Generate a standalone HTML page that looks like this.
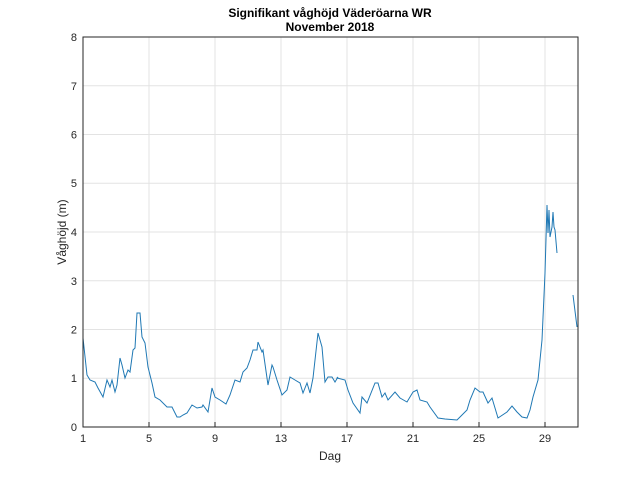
<!DOCTYPE html>
<html><head><style>body{margin:0;background:#fff}svg{display:block}</style></head><body>
<svg width="640" height="480" xmlns="http://www.w3.org/2000/svg" font-family="Liberation Sans, Arial, sans-serif">
<rect width="640" height="480" fill="#fff"/>
<g stroke="#e3e3e3" stroke-width="1">
<line x1="149" y1="37" x2="149" y2="427"/><line x1="215" y1="37" x2="215" y2="427"/><line x1="281" y1="37" x2="281" y2="427"/><line x1="347" y1="37" x2="347" y2="427"/><line x1="413" y1="37" x2="413" y2="427"/><line x1="479" y1="37" x2="479" y2="427"/><line x1="545" y1="37" x2="545" y2="427"/>
<line x1="83" y1="378.25" x2="578" y2="378.25"/><line x1="83" y1="329.5" x2="578" y2="329.5"/><line x1="83" y1="280.75" x2="578" y2="280.75"/><line x1="83" y1="232" x2="578" y2="232"/><line x1="83" y1="183.25" x2="578" y2="183.25"/><line x1="83" y1="134.5" x2="578" y2="134.5"/><line x1="83" y1="85.75" x2="578" y2="85.75"/>
</g>
<g fill="none" stroke="#1f78b4" stroke-width="1">
<polyline points="83,338 87,375 90,380 95,382 98,388 103,397 107,380 110,387 112,380 115,392 117,385 120,358 122,365 125,378 128,370 130,372 133,350 135,348 137,313 140,313 142,337 145,343 148,367 152,383 155,397 160,400 167,407 172,407 177,417 180,417 183,415 187,413 192,405 197,408 202,407 203,405 208,412 212,388 215,397 220,400 226,404 230,395 235,380 240,382 243,372 247,368 250,360 253,350 257,350 258,342 262,352 263,350 268,385 272,365 273,367 277,380 282,395 287,390 290,377 295,380 300,383 303,393 307,383 310,393 313,378 318,333 322,347 325,382 328,377 332,377 335,382 338,377 337,378 345,380 348,390 353,403 360,413 362,397 367,403 375,383 378,383 382,397 385,393 388,400 395,392 400,398 407,402 413,392 417,390 420,400 427,402 430,407 438,418 445,419 457,420 462,415 467,410 470,400 475,388 480,392 483,392 488,403 492,398 498,418 507,412 512,406 517,412 522,417 527,418 530,410 533,397 538,380 542,340 545,273 547,205 548,233 549,210 550,237 552,227 553,212 554,227 555,230 557,253"/>
<polyline points="573,295 577,327"/>
</g>
<rect x="83" y="37" width="495" height="390" fill="none" stroke="#262626" stroke-width="1"/>
<g stroke="#262626">
<line x1="149" y1="427" x2="149" y2="422"/><line x1="215" y1="427" x2="215" y2="422"/><line x1="281" y1="427" x2="281" y2="422"/><line x1="347" y1="427" x2="347" y2="422"/><line x1="413" y1="427" x2="413" y2="422"/><line x1="479" y1="427" x2="479" y2="422"/><line x1="545" y1="427" x2="545" y2="422"/>
</g>
<g font-size="11" fill="#262626" text-anchor="middle">
<text x="83" y="442">1</text><text x="149" y="442">5</text><text x="215" y="442">9</text><text x="281" y="442">13</text><text x="347" y="442">17</text><text x="413" y="442">21</text><text x="479" y="442">25</text><text x="545" y="442">29</text>
</g>
<g font-size="11" fill="#262626" text-anchor="end">
<text x="77" y="431">0</text><text x="77" y="382">1</text><text x="77" y="333.5">2</text><text x="77" y="285">3</text><text x="77" y="236">4</text><text x="77" y="187">5</text><text x="77" y="138.5">6</text><text x="77" y="90">7</text><text x="77" y="41">8</text>
</g>
<text x="330" y="460" font-size="12" fill="#262626" text-anchor="middle">Dag</text>
<text transform="translate(66,232) rotate(-90)" font-size="12" fill="#262626" text-anchor="middle">Våghöjd (m)</text>
<text x="330" y="17" font-size="12" font-weight="bold" fill="#000" text-anchor="middle">Signifikant våghöjd Väderöarna WR</text>
<text x="330" y="31" font-size="12" font-weight="bold" fill="#000" text-anchor="middle">November 2018</text>
</svg>
</body></html>
